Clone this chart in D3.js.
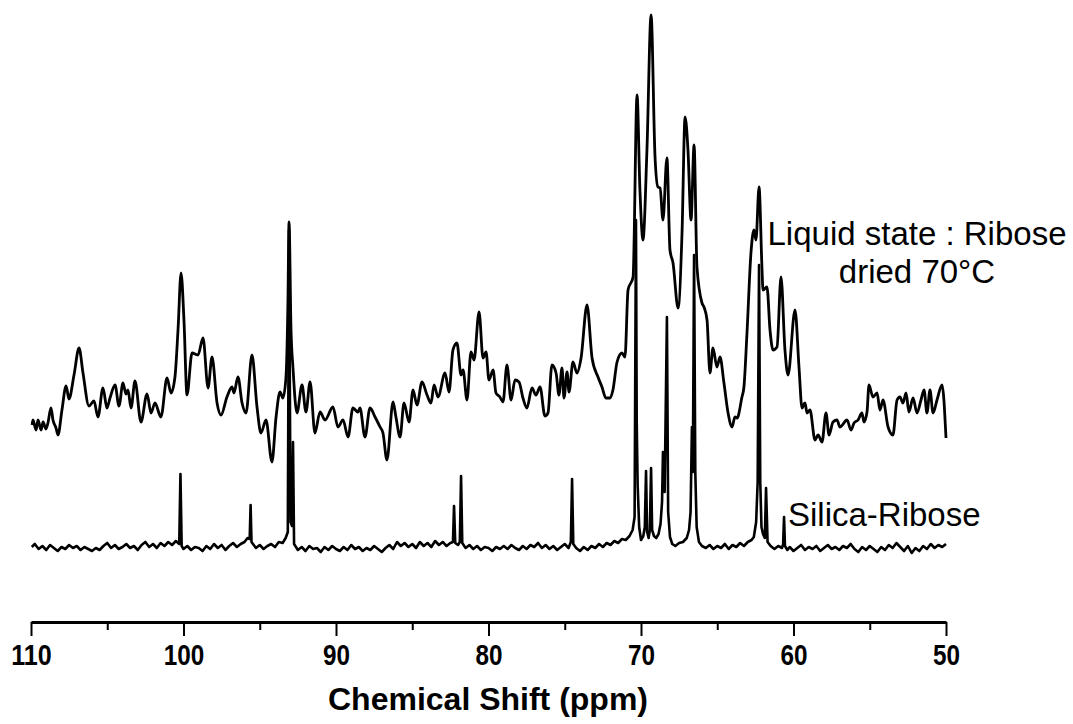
<!DOCTYPE html>
<html>
<head>
<meta charset="utf-8">
<script src="https://cdn.jsdelivr.net/npm/d3@7"></script>
<style>
  body { margin: 0; background: #fff; }
  svg { display: block; }
  .tick-label { font-family: "Liberation Sans", Arial, sans-serif; font-weight: bold; }
  .axis-title { font-family: "Liberation Sans", Arial, sans-serif; font-weight: bold; }
  .note { font-family: "Liberation Sans", Arial, sans-serif; }
</style>
</head>
<body>
<div id="chart"></div>
<script>

var svgWidth = 1073;
var svgHeight = 724;

// axis ticks (ppm)
var majorTicks = [110, 100, 90, 80, 70, 60, 50];
var minorTicks = [105, 95, 85, 75, 65, 55];

// liquid state spectrum (ribose dried 70°C), chemical shift and intensity
var liquidShift = [
  109.93, 109.87, 109.67, 109.54, 109.34, 109.21, 109.02, 108.89, 108.69, 108.56, 108.36, 108.23,
  107.97, 107.70, 107.51, 107.18, 106.85, 106.59, 106.20, 105.87, 105.61, 105.28, 105.02, 104.82,
  104.49, 104.23, 103.97, 103.77, 103.64, 103.44, 103.18, 102.79, 102.39, 102.13, 101.87, 101.48,
  101.08, 100.82, 100.56, 100.36, 100.16, 99.97, 99.77, 99.44, 99.05, 98.72, 98.39, 98.13,
  97.80, 97.54, 97.15, 96.82, 96.69, 96.43, 96.16, 95.90, 95.51, 95.18, 94.92, 94.59,
  94.20, 93.93, 93.67, 93.48, 93.28, 93.15, 93.08, 92.95, 92.82, 92.56, 92.23, 91.97,
  91.70, 91.38, 91.05, 90.72, 90.20, 89.87, 89.54, 89.21, 88.89, 88.56, 88.43, 88.10,
  87.77, 87.44, 87.11, 86.92, 86.66, 86.26, 86.07, 85.80, 85.54, 85.21, 84.95, 84.69,
  84.36, 84.03, 83.77, 83.57, 83.31, 82.85, 82.59, 82.33, 82.07, 81.80, 81.67, 81.41,
  81.15, 80.95, 80.62, 80.36, 80.16, 79.97, 79.70, 79.51, 79.25, 79.05, 78.79, 78.52,
  78.26, 78.00, 77.74, 77.48, 77.15, 76.89, 76.62, 76.30, 76.10, 75.84, 75.57, 75.38,
  75.18, 75.05, 74.85, 74.72, 74.46, 74.20, 73.93, 73.54, 73.21, 72.82, 72.56, 72.30,
  72.03, 71.84, 71.57, 71.25, 71.05, 70.85, 70.52, 70.26, 70.07, 69.87, 69.61, 69.34,
  69.08, 68.89, 68.75, 68.56, 68.30, 68.10, 67.90, 67.57, 67.31, 67.11, 66.92, 66.72,
  66.52, 66.33, 66.00, 65.87, 65.67, 65.48, 65.28, 65.02, 64.82, 64.56, 64.29, 64.03,
  63.84, 63.70, 63.38, 63.25, 63.05, 62.79, 62.59, 62.46, 62.26, 62.07, 62.00, 61.74,
  61.54, 61.34, 61.08, 60.82, 60.56, 60.36, 59.90, 59.64, 59.44, 59.25, 59.11, 58.92,
  58.59, 58.39, 58.13, 57.87, 57.67, 57.41, 57.15, 56.95, 56.49, 56.23, 56.03, 55.77,
  55.51, 55.38, 55.18, 55.05, 54.79, 54.52, 54.33, 54.13, 53.80, 53.48, 53.21, 53.02,
  52.82, 52.62, 52.43, 52.16, 51.90, 51.64, 51.44, 51.25, 51.05, 50.85, 50.59, 50.26,
  50.00
];
var liquidIntensity = [
  197, 202, 192, 202, 192, 200, 193, 199, 214, 202, 194, 187,
  212, 236, 223, 247, 274, 249, 216, 221, 205, 234, 214, 224,
  237, 216, 239, 228, 232, 214, 241, 200, 228, 209, 219, 205,
  244, 229, 245, 292, 349, 302, 227, 269, 267, 284, 234, 265,
  219, 207, 225, 235, 229, 245, 219, 209, 267, 215, 189, 202,
  160, 205, 230, 224, 245, 322, 400, 292, 254, 209, 237, 210,
  240, 189, 210, 202, 215, 195, 202, 185, 214, 210, 214, 185,
  214, 205, 195, 189, 162, 220, 205, 185, 219, 200, 232, 217,
  240, 227, 219, 237, 225, 249, 230, 272, 279, 247, 252, 222,
  270, 262, 310, 264, 270, 242, 252, 229, 225, 220, 257, 222,
  242, 240, 224, 214, 234, 227, 235, 206, 209, 257, 249, 227,
  254, 224, 250, 230, 260, 249, 264, 317, 264, 245, 235, 224,
  224, 232, 260, 269, 265, 332, 345, 527, 432, 382, 472, 607,
  465, 435, 434, 402, 464, 372, 359, 314, 389, 505, 472, 402,
  477, 355, 319, 315, 302, 249, 274, 255, 265, 239, 209, 195,
  205, 204, 225, 235, 289, 369, 392, 382, 435, 355, 332, 335,
  292, 272, 275, 345, 272, 247, 312, 255, 214, 219, 209, 212,
  182, 187, 180, 209, 187, 200, 202, 195, 202, 192, 199, 202,
  209, 200, 210, 237, 225, 229, 212, 222, 195, 187, 222, 225,
  219, 229, 210, 224, 209, 222, 232, 209, 232, 209, 222, 237,
  184
];

// silica-ribose spectrum: [chemical shift, intensity]
var silicaSpectrum = [
  [109.95, 75], [109.75, 78], [109.5, 73], [109.25, 76], [109.0, 72],
  [108.75, 77], [108.5, 74], [108.25, 71], [108.0, 75],
  [107.75, 73], [107.5, 77], [107.25, 74], [107.0, 76],
  [106.75, 72], [106.5, 75], [106.25, 73], [106.0, 71],
  [105.75, 74], [105.5, 72], [105.25, 76], [105.0, 79],
  [104.75, 74], [104.5, 77], [104.25, 73], [104.0, 75],
  [103.75, 78], [103.5, 74], [103.25, 76], [103.0, 72],
  [102.75, 77], [102.5, 80], [102.25, 75], [102.0, 78],
  [101.75, 74], [101.5, 79], [101.25, 76], [101.0, 80],
  [100.75, 77], [100.5, 81], [100.28, 78], [100.2, 148], [100.12, 76],
  [100.0, 73], [99.75, 76], [99.5, 72], [99.25, 75],
  [99.0, 74], [98.75, 71], [98.5, 76], [98.25, 73],
  [98.0, 78], [97.75, 74], [97.5, 77], [97.25, 72],
  [97.0, 76], [96.75, 79], [96.5, 75], [96.25, 78],
  [96.0, 80], [95.8, 84], [95.66, 83], [95.6, 117], [95.54, 80],
  [95.25, 74], [95.0, 77], [94.75, 73], [94.5, 76],
  [94.25, 78], [94.0, 75], [93.75, 80], [93.5, 79],
  [93.3, 84], [93.16, 90], [93.08, 392], [92.98, 100], [92.88, 96], [92.82, 180], [92.75, 78],
  [92.5, 72], [92.25, 75], [92.0, 71],
  [91.75, 76], [91.5, 73], [91.25, 74], [91.0, 70],
  [90.75, 75], [90.5, 72], [90.25, 76], [90.0, 73],
  [89.75, 71], [89.5, 75], [89.25, 72], [89.0, 77],
  [88.75, 73], [88.5, 75], [88.25, 71], [88.0, 74],
  [87.75, 72], [87.5, 76], [87.25, 73], [87.0, 70],
  [86.75, 74], [86.5, 77], [86.25, 73], [86.0, 80],
  [85.75, 76], [85.5, 79], [85.25, 75], [85.0, 78],
  [84.75, 74], [84.5, 80], [84.25, 76], [84.0, 79],
  [83.75, 75], [83.5, 81], [83.25, 77], [83.0, 80],
  [82.75, 76], [82.5, 79], [82.33, 80], [82.26, 116], [82.18, 79],
  [82.0, 77], [81.88, 80], [81.8, 146], [81.72, 79],
  [81.5, 74], [81.25, 77],
  [81.0, 73], [80.75, 76], [80.5, 72], [80.25, 75],
  [80.0, 74], [79.75, 71], [79.5, 75], [79.25, 73],
  [79.0, 76], [78.75, 73], [78.5, 77], [78.25, 74],
  [78.0, 72], [77.75, 76], [77.5, 73], [77.25, 77],
  [77.0, 75], [76.75, 79], [76.5, 74], [76.25, 77],
  [76.0, 73], [75.75, 76], [75.5, 72], [75.25, 75],
  [75.0, 78], [74.75, 74], [74.6, 80], [74.52, 143], [74.44, 78],
  [74.25, 74], [74.0, 71], [73.75, 75], [73.5, 72], [73.25, 76],
  [73.0, 74], [72.75, 78], [72.5, 75], [72.25, 79],
  [72.0, 77], [71.75, 81], [71.5, 79], [71.25, 83],
  [71.0, 82], [70.75, 86], [70.55, 92], [70.42, 105], [70.33, 402], [70.28, 200],
  [70.22, 137], [70.12, 95], [70.0, 82], [69.85, 86], [69.75, 95], [69.67, 151],
  [69.6, 90], [69.5, 84], [69.42, 92], [69.34, 154], [69.27, 92], [69.15, 86],
  [69.0, 84], [68.85, 88], [68.72, 98], [68.62, 120], [68.56, 170], [68.45, 130],
  [68.3, 305], [68.22, 110], [68.1, 85], [67.95, 78], [67.75, 76], [67.5, 79],
  [67.25, 80], [67.0, 84], [66.85, 92], [66.75, 110], [66.66, 195], [66.6, 150],
  [66.52, 367], [66.44, 150], [66.35, 95], [66.2, 80], [66.0, 76],
  [65.75, 74], [65.5, 77], [65.25, 73], [65.0, 76],
  [64.75, 74], [64.5, 78], [64.25, 73], [64.0, 77],
  [63.75, 75], [63.5, 79], [63.25, 76], [63.0, 80],
  [62.75, 82], [62.6, 85], [62.45, 100], [62.35, 140], [62.26, 357], [62.18, 140],
  [62.1, 95], [62.0, 88], [61.88, 84], [61.8, 134], [61.7, 80], [61.5, 76],
  [61.25, 73], [61.0, 76], [60.75, 74], [60.68, 78], [60.62, 105], [60.56, 76],
  [60.4, 72], [60.25, 75], [60.0, 71],
  [59.75, 74], [59.5, 77], [59.25, 72], [59.0, 75],
  [58.75, 73], [58.5, 76], [58.25, 71], [58.0, 74],
  [57.75, 77], [57.5, 73], [57.25, 75], [57.0, 72],
  [56.75, 76], [56.5, 74], [56.25, 78], [56.0, 73],
  [55.75, 70], [55.5, 75], [55.25, 72], [55.0, 76],
  [54.75, 73], [54.5, 70], [54.25, 75], [54.0, 72],
  [53.75, 77], [53.5, 74], [53.25, 79], [53.0, 75],
  [52.75, 71], [52.5, 76], [52.25, 69], [52.0, 74],
  [51.75, 71], [51.5, 76], [51.25, 73], [51.0, 78],
  [50.75, 74], [50.5, 77], [50.25, 75], [50.0, 78]
];

var axisY = 622;

var svg = d3.select("#chart")
  .append("svg")
  .attr("width", svgWidth)
  .attr("height", svgHeight);

// scales
var xScale = d3.scaleLinear()
  .domain([110, 50])
  .range([31, 946]);

var yScale = d3.scaleLinear()
  .domain([0, 622])
  .range([axisY, 0]);

// smooth line for the broad liquid trace, straight for the sharp silica peaks
var smoothLine = d3.line()
  .x(d => xScale(d[0]))
  .y(d => yScale(d[1]))
  .curve(d3.curveMonotoneX);

var line = d3.line()
  .x(d => xScale(d[0]))
  .y(d => yScale(d[1]));

// liquid state trace
var liquidData = liquidShift.map((s, i) => [s, liquidIntensity[i]]);

svg.append("path")
  .datum(liquidData)
  .attr("fill", "none")
  .attr("stroke", "#000")
  .attr("stroke-width", 2.8)
  .attr("stroke-linejoin", "round")
  .attr("d", smoothLine);

// silica trace
svg.append("path")
  .datum(silicaSpectrum)
  .attr("fill", "none")
  .attr("stroke", "#000")
  .attr("stroke-width", 2.6)
  .attr("stroke-linejoin", "round")
  .attr("d", line);

// minor ticks
svg.append("g")
  .attr("transform", `translate(0, ${axisY})`)
  .call(d3.axisBottom(xScale).tickValues(minorTicks).tickSize(8).tickFormat(""))
  .call(g => g.select(".domain").remove())
  .call(g => g.selectAll(".tick line").attr("stroke-width", 2));

// major ticks + labels
var xAxis = svg.append("g")
  .attr("transform", `translate(0, ${axisY})`)
  .call(d3.axisBottom(xScale).tickValues(majorTicks).tickSize(14).tickSizeOuter(0).tickPadding(8));

xAxis.select(".domain").attr("stroke-width", 2.8);
xAxis.selectAll(".tick line").attr("stroke-width", 2);
// labels in the original are a condensed bold face: squeeze them
xAxis.selectAll(".tick text")
  .classed("tick-label", true)
  .attr("font-size", "29px")
  .attr("fill", "#000")
  .attr("textLength", function () { return this.textContent.length * 13.5; })
  .attr("lengthAdjust", "spacingAndGlyphs");

// axis title
svg.append("text")
  .attr("class", "axis-title")
  .attr("x", 488)
  .attr("y", 710)
  .attr("text-anchor", "middle")
  .attr("font-size", "32px")
  .text("Chemical Shift (ppm)");

// trace labels
svg.append("text")
  .attr("class", "note")
  .attr("x", 917)
  .attr("y", 245)
  .attr("text-anchor", "middle")
  .attr("font-size", "33px")
  .text("Liquid state : Ribose");

svg.append("text")
  .attr("class", "note")
  .attr("x", 917)
  .attr("y", 283)
  .attr("text-anchor", "middle")
  .attr("font-size", "33px")
  .text("dried 70°C");

svg.append("text")
  .attr("class", "note")
  .attr("x", 788)
  .attr("y", 526)
  .attr("font-size", "33px")
  .text("Silica-Ribose");

</script>
</body>
</html>
